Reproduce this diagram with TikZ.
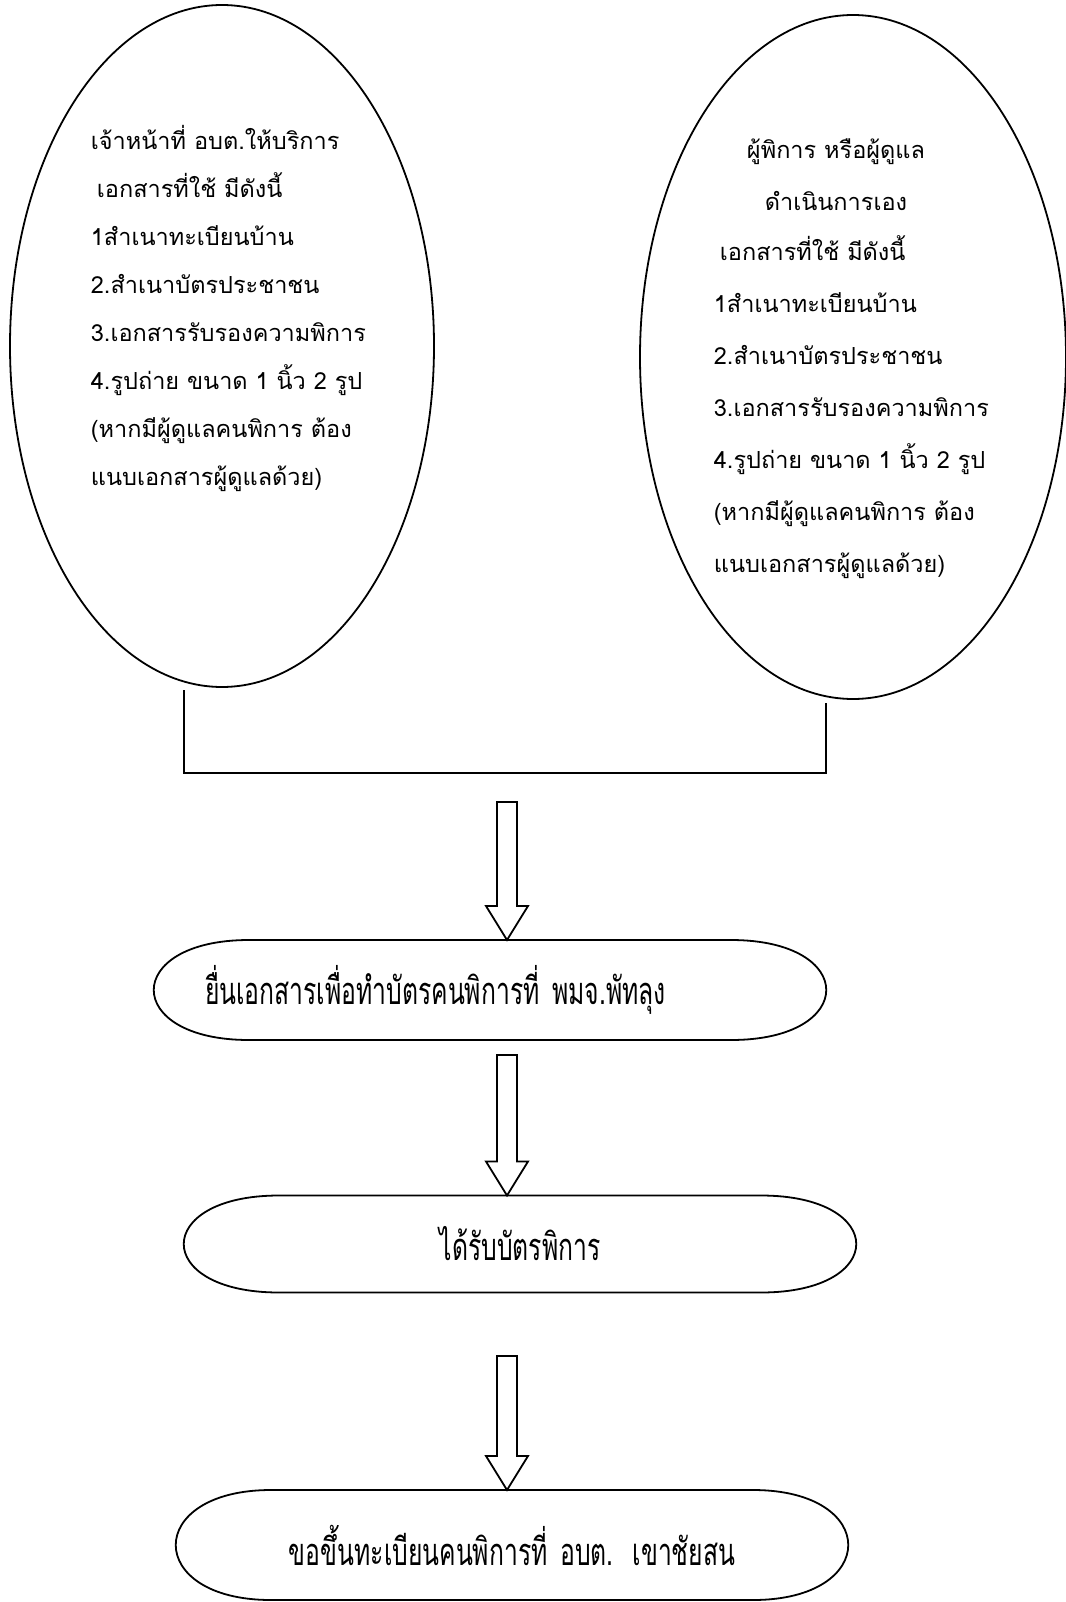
\documentclass[tikz,border=0pt]{standalone}
\usepackage{fontspec}
\newfontfamily\thaifont[Script=Thai]{Loma}
\newfontfamily\thaicond[Script=Thai,FakeStretch=0.65]{Loma}
\usetikzlibrary{shapes.geometric}

% flat oval around a named node
\newcommand{\termshape}[1]{%
  \draw ([xshift=95pt]#1.north west) -- ([xshift=-95pt]#1.north east)
    .. controls +(127pt,0pt) and +(127pt,0pt) .. ([xshift=-95pt]#1.south east)
    -- ([xshift=95pt]#1.south west)
    .. controls +(-127pt,0pt) and +(-127pt,0pt) .. ([xshift=95pt]#1.north west) -- cycle;}

% hollow arrow from #1 down to #2
\newcommand{\blockarrow}[2]{%
  \draw ([xshift=-10pt]#1) -- ([xshift=-10pt,yshift=34pt]#2) -- ([xshift=-21pt,yshift=34pt]#2)
    -- (#2) -- ([xshift=21pt,yshift=34pt]#2) -- ([xshift=10pt,yshift=34pt]#2)
    -- ([xshift=10pt]#1) -- cycle;}

\begin{document}
\begin{tikzpicture}[x=1pt,y=-1pt,line width=1.8pt]
  \useasboundingbox (0,0) rectangle (1065,1602);

  \begin{scope}[every node/.style={ellipse,draw,inner sep=0pt,outer sep=0pt}]
    \node (staff) [minimum width=424pt,minimum height=682pt] at (222,346) {};
    \node (self) [minimum width=426pt,minimum height=684pt] at (853,357) {};
  \end{scope}

  \begin{scope}[every node/.style={inner sep=0pt,font=\thaifont\fontsize{23.5}{48}\selectfont}]
    \node (stafftext) [anchor=west,align=left] at (90,308) {เจ้าหน้าที่ อบต.ให้บริการ\\
      \hspace*{6pt}เอกสารที่ใช้ มีดังนี้\\
      1สำเนาทะเบียนบ้าน\\
      2.สำเนาบัตรประชาชน\\
      3.เอกสารรับรองความพิการ\\
      4.รูปถ่าย ขนาด 1 นิ้ว 2 รูป\\
      (หากมีผู้ดูแลคนพิการ ต้อง\\
      แนบเอกสารผู้ดูแลด้วย)};
    \node (selfhead) [align=center,font=\thaifont\fontsize{23.5}{52}\selectfont] at (836,175) {ผู้พิการ หรือผู้ดูแล\\
      ดำเนินการเอง};
    \node (selftext) [anchor=west,align=left,font=\thaifont\fontsize{23.5}{52}\selectfont] at (713,407) {\hspace*{6pt}เอกสารที่ใช้ มีดังนี้\\
      1สำเนาทะเบียนบ้าน\\
      2.สำเนาบัตรประชาชน\\
      3.เอกสารรับรองความพิการ\\
      4.รูปถ่าย ขนาด 1 นิ้ว 2 รูป\\
      (หากมีผู้ดูแลคนพิการ ต้อง\\
      แนบเอกสารผู้ดูแลด้วย)};
  \end{scope}

  \begin{scope}[every node/.style={rectangle,inner xsep=51pt,inner ysep=0pt,outer sep=0pt,
      text width=570pt,minimum width=672pt,font=\thaicond\fontsize{38}{42}\selectfont}]
    \node (submit) [minimum height=100pt,align=left] at (490,990) {ยื่นเอกสารเพื่อทำบัตรคนพิการที่ พมจ.พัทลุง};
    \node (card) [minimum height=97pt,align=center] at (520,1244) {ได้รับบัตรพิการ};
    \node (register) [minimum height=110pt,align=center] at (512,1545) {ขอขึ้นทะเบียนคนพิการที่ อบต. เขาชัยสน};
  \end{scope}
  \termshape{submit}
  \termshape{card}
  \termshape{register}

  \coordinate (stafffoot) at (184,690);
  \coordinate (selffoot) at (826,703);
  \coordinate (join) at (0,773);
  \draw (stafffoot) -- (stafffoot |- join) -- (selffoot |- join) -- (selffoot);

  \coordinate (a1) at (507,802);
  \coordinate (a2) at (507,1055);
  \coordinate (a3) at (507,1356);
  \coordinate (t1) at (a1 |- submit.north);
  \coordinate (t2) at (a2 |- card.north);
  \coordinate (t3) at (a3 |- register.north);
  \blockarrow{a1}{t1}
  \blockarrow{a2}{t2}
  \blockarrow{a3}{t3}
\end{tikzpicture}
\end{document}
